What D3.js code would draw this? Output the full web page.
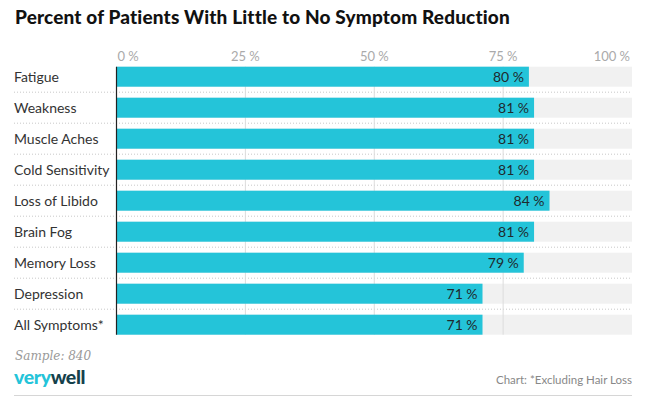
<!DOCTYPE html>
<html>
<head>
<meta charset="utf-8">
<script src="https://cdn.jsdelivr.net/npm/d3@7"></script>
<style>
  body { margin: 0; background: #fff; }
  svg text { font-family: Lato, "Noto Sans", sans-serif; }
</style>
</head>
<body>
<div id="chart"></div>
<script>
const categories = ['Fatigue', 'Weakness', 'Muscle Aches', 'Cold Sensitivity', 'Loss of Libido',
  'Brain Fog', 'Memory Loss', 'Depression', 'All Symptoms*']
const values = [80, 81, 81, 81, 84, 81, 79, 71, 71]
const ticks = [0, 25, 50, 75, 100]
const title = 'Percent of Patients With Little to No Symptom Reduction'
const sample = 'Sample: 840'
const note = 'Chart: *Excluding Hair Loss'

const width = 656, height = 411
const barColor = '#24c4d9'

const svg = d3.select('#chart').append('svg')
    .attr('width', width)
    .attr('height', height)

let x = d3.scaleLinear().domain([0, 100]).range([116.5, 632])
let y = d3.scaleBand().domain(categories).range([66.7, 334.7])
    .paddingInner(11 / 31).paddingOuter(0)

const fmt = d => d + '\u202f%'

// title
svg.append('text')
    .attr('x', 15).attr('y', 23.5)
    .attr('font-size', 19).attr('font-weight', 900)
    .attr('letter-spacing', 0.15)
    .attr('fill', '#111')
    .text(title)

// background tracks
svg.append('g').selectAll('rect')
    .data(categories)
    .join('rect')
    .attr('x', x(0)).attr('y', d => y(d))
    .attr('width', x(100) - x(0)).attr('height', y.bandwidth())
    .attr('fill', '#f1f1f1')

// row separators
svg.append('g').selectAll('line')
    .data(categories.slice(1))
    .join('line')
    .attr('x1', 14).attr('x2', 632)
    .attr('y1', d => y(d) - (y.step() - y.bandwidth()) / 2)
    .attr('y2', d => y(d) - (y.step() - y.bandwidth()) / 2)
    .attr('stroke', '#c8c8c8').attr('stroke-dasharray', '1,2')

// grid lines
svg.append('g').selectAll('line')
    .data(ticks.slice(1, -1))
    .join('line')
    .attr('x1', d => x(d)).attr('x2', d => x(d))
    .attr('y1', y.range()[0]).attr('y2', y.range()[1])
    .attr('stroke', '#dcdcdc')

// tick labels
svg.append('g').selectAll('text')
    .data(ticks)
    .join('text')
    .attr('x', d => x(d) + (d === 0 ? 1 : d === 100 ? -2 : 0))
    .attr('y', 60.7)
    .attr('text-anchor', (d, i) => i === 0 ? 'start' : i === ticks.length - 1 ? 'end' : 'middle')
    .attr('font-size', 13).attr('fill', '#aaa')
    .text(fmt)

// bars
svg.append('g').selectAll('rect')
    .data(values)
    .join('rect')
    .attr('x', x(0)).attr('y', (d, i) => y(categories[i]))
    .attr('width', d => x(d) - x(0)).attr('height', y.bandwidth())
    .attr('fill', barColor)

// value labels
svg.append('g').selectAll('text')
    .data(values)
    .join('text')
    .attr('x', d => x(d) - 5)
    .attr('y', (d, i) => y(categories[i]) + y.bandwidth() / 2)
    .attr('dy', '0.36em')
    .attr('text-anchor', 'end')
    .attr('font-size', 14).attr('fill', '#1f2a2e')
    .text(fmt)

// category labels
svg.append('g').selectAll('text')
    .data(categories)
    .join('text')
    .attr('x', 14)
    .attr('y', d => y(d) + y.bandwidth() / 2)
    .attr('dy', '0.36em')
    .attr('font-size', 14).attr('fill', '#333')
    .text(d => d)

// zero axis
svg.append('line')
    .attr('x1', x(0)).attr('x2', x(0))
    .attr('y1', y.range()[0]).attr('y2', y.range()[1])
    .attr('stroke', '#222').attr('stroke-width', 1.2)

// footer
svg.append('text')
    .attr('x', 15).attr('y', 360)
    .attr('font-size', 12).attr('font-style', 'italic')
    .attr('fill', '#999')
    .style('font-family', '"DejaVu Serif", "Liberation Serif", serif')
    .text(sample)

let logo = svg.append('text')
    .attr('x', 14).attr('y', 383.5)
    .attr('font-size', 19.5).attr('font-weight', 900)
    .attr('letter-spacing', -0.4)
logo.append('tspan').attr('fill', barColor).text('very')
logo.append('tspan').attr('fill', '#15414b').text('well')

svg.append('text')
    .attr('x', 632).attr('y', 384)
    .attr('text-anchor', 'end')
    .attr('font-size', 11.5).attr('fill', '#888')
    .text(note)

svg.append('line')
    .attr('x1', 14).attr('x2', 632)
    .attr('y1', 395.5).attr('y2', 395.5)
    .attr('stroke', '#d6d6d6')
</script>
</body>
</html>
